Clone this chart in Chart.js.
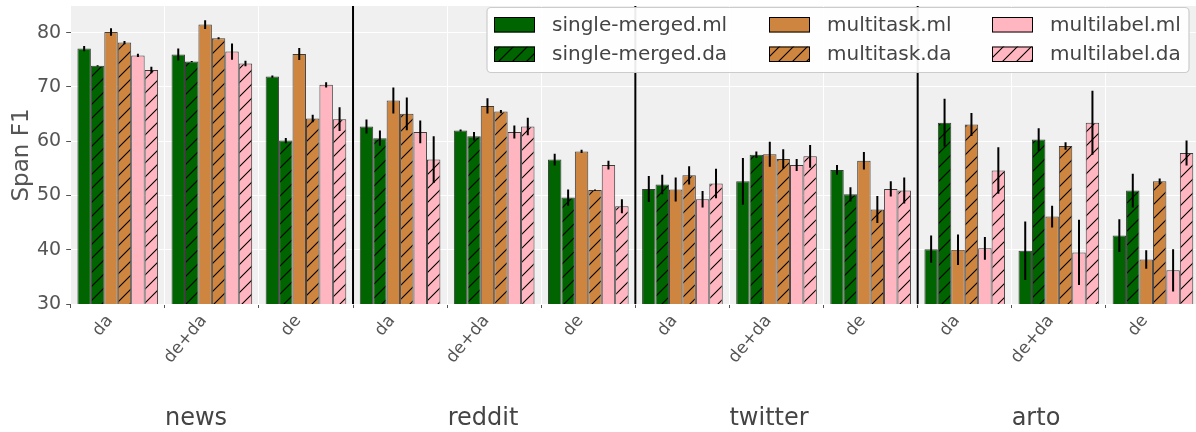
<!DOCTYPE html>
<html>
<head>
<meta charset="utf-8">
<script src="https://cdn.jsdelivr.net/npm/chart.js@4.4.1/dist/chart.umd.min.js"></script>
<style>
  html, body { margin: 0; padding: 0; background: #ffffff; overflow: hidden; }
  #wrap { width: 1200px; height: 432px; position: relative; }
</style>
</head>
<body>
<div id="wrap"><canvas id="c"></canvas></div>
<script>
// ---- data ----
const domains = ['news', 'reddit', 'twitter', 'arto'];
const subsets = ['da', 'de+da', 'de'];
const categories = ['da', 'de+da', 'de', 'da', 'de+da', 'de', 'da', 'de+da', 'de', 'da', 'de+da', 'de'];
const yTicks = [30, 40, 50, 60, 70, 80];

const singleMergedMl    = [77.05, 75.95, 71.9, 62.7, 61.96, 56.6, 51.2, 52.6, 54.7, 40.1, 39.8, 42.6];
const singleMergedMlErr = [0.5, 1.1, 0.2, 1.3, 0.2, 1.1, 2.4, 4.3, 0.9, 2.5, 5.4, 3.0];
const singleMergedDa    = [73.87, 74.66, 60.1, 60.55, 60.9, 49.6, 52.0, 57.5, 50.2, 63.4, 60.3, 50.9];
const singleMergedDaErr = [0.1, 0.1, 0.5, 1.4, 0.8, 1.5, 1.8, 0.6, 1.3, 4.4, 2.1, 3.1];
const multitaskMl       = [80.1, 81.47, 76.07, 67.5, 66.5, 58.1, 51.1, 57.6, 56.4, 40.0, 46.1, 38.2];
const multitaskMlErr    = [0.7, 0.8, 1.1, 2.4, 1.4, 0.3, 2.2, 2.3, 1.6, 2.8, 2.0, 1.7];
const multitaskDa       = [78.16, 78.96, 64.17, 65.03, 65.46, 50.98, 53.7, 56.7, 47.4, 63.07, 59.1, 52.6];
const multitaskDaErr    = [0.3, 0.2, 0.7, 3.0, 0.3, 0.1, 1.7, 1.8, 2.5, 2.1, 0.7, 0.5];
const multilabelMl      = [75.8, 76.5, 70.37, 61.7, 61.7, 55.6, 49.3, 55.6, 51.2, 40.25, 39.5, 36.2];
const multilabelMlErr   = [0.3, 1.5, 0.5, 2.1, 1.2, 0.8, 1.5, 1.1, 1.4, 2.1, 6.0, 3.9];
const multilabelDa      = [73.1, 74.3, 64.05, 56.6, 62.7, 48.0, 52.2, 57.2, 50.9, 54.6, 63.4, 57.8];
const multilabelDaErr   = [0.6, 0.5, 2.2, 4.3, 1.6, 1.3, 2.7, 2.1, 2.4, 4.3, 5.9, 2.3];

// ---- styles ----
const FONT = "'DejaVu Sans', sans-serif";
const GREEN = '#006400', PERU = '#CD853F', PINK = '#FFB6C1';

function hatch(color) {
  const s = 14;
  const c = document.createElement('canvas');
  c.width = s; c.height = s;
  const g = c.getContext('2d');
  g.fillStyle = color; g.fillRect(0, 0, s, s);
  g.strokeStyle = '#000'; g.lineWidth = 1.1;
  g.beginPath();
  g.moveTo(0, s); g.lineTo(s, 0);
  g.moveTo(-s / 2, s / 2); g.lineTo(s / 2, -s / 2);
  g.moveTo(s / 2, s * 1.5); g.lineTo(s * 1.5, s / 2);
  g.stroke();
  return g.createPattern(c, 'repeat');
}

function ds(label, data, err, color, hatched) {
  return {
    label, data, errors: err,
    backgroundColor: hatched ? hatch(color) : color,
    borderColor: 'rgba(0,0,0,0.75)',
    borderWidth: 1,
    borderSkipped: false
  };
}

const datasets = [
  ds('single-merged.ml', singleMergedMl, singleMergedMlErr, GREEN, false),
  ds('single-merged.da', singleMergedDa, singleMergedDaErr, GREEN, true),
  ds('multitask.ml', multitaskMl, multitaskMlErr, PERU, false),
  ds('multitask.da', multitaskDa, multitaskDaErr, PERU, true),
  ds('multilabel.ml', multilabelMl, multilabelMlErr, PINK, false),
  ds('multilabel.da', multilabelDa, multilabelDaErr, PINK, true)
];

const bgPlugin = {
  id: 'bg',
  beforeDraw(chart) {
    const { ctx, chartArea: a } = chart;
    ctx.save();
    ctx.fillStyle = '#f0f0f0';
    ctx.fillRect(a.left, a.top, a.right - a.left, a.bottom - a.top);
    ctx.restore();
  }
};

const overlayPlugin = {
  id: 'overlay',
  afterDatasetsDraw(chart) {
    const { ctx, chartArea: a } = chart;
    const ys = chart.scales.y, xs = chart.scales.x;
    ctx.save();
    ctx.beginPath();
    ctx.rect(a.left, a.top, a.right - a.left, a.bottom - a.top);
    ctx.clip();
    ctx.strokeStyle = '#000';
    ctx.lineWidth = 2;
    chart.data.datasets.forEach((d, i) => {
      const meta = chart.getDatasetMeta(i);
      meta.data.forEach((el, j) => {
        const v = d.data[j], e = d.errors[j];
        ctx.beginPath();
        ctx.moveTo(el.x, ys.getPixelForValue(v - e));
        ctx.lineTo(el.x, ys.getPixelForValue(v + e));
        ctx.stroke();
      });
    });
    ctx.lineWidth = 2;
    for (let g = 1; g < domains.length; g++) {
      const i = g * subsets.length;
      const x = (xs.getPixelForValue(i - 1) + xs.getPixelForValue(i)) / 2;
      ctx.beginPath();
      ctx.moveTo(x, a.top);
      ctx.lineTo(x, a.bottom);
      ctx.stroke();
    }
    ctx.restore();
  },
  afterDraw(chart) {
    const { ctx } = chart;
    ctx.save();
    const domainX = [196, 483, 769, 1036];
    ctx.fillStyle = '#444';
    ctx.font = '24px ' + FONT;
    ctx.textAlign = 'center';
    ctx.textBaseline = 'middle';
    domains.forEach((d, i) => ctx.fillText(d, domainX[i], 419));
    const bx = 487, by = 7.5, bw = 702, bh = 65;
    ctx.fillStyle = 'rgba(255,255,255,0.92)';
    ctx.strokeStyle = '#cccccc';
    ctx.lineWidth = 1.2;
    ctx.beginPath();
    ctx.roundRect(bx, by, bw, bh, 4);
    ctx.fill();
    ctx.stroke();
    const colX = [494, 769, 992];
    const rowY = [17, 46.5];
    ctx.font = '20px ' + FONT;
    ctx.textAlign = 'left';
    ctx.textBaseline = 'middle';
    chart.data.datasets.forEach((d, i) => {
      const col = Math.floor(i / 2), row = i % 2;
      const x = colX[col], y = rowY[row];
      ctx.fillStyle = d.backgroundColor;
      ctx.fillRect(x, y, 41, 15.5);
      ctx.strokeStyle = '#000';
      ctx.lineWidth = 1;
      ctx.strokeRect(x + 0.5, y + 0.5, 40, 14.5);
      ctx.fillStyle = '#444';
      ctx.fillText(d.label, x + 58, y + 8.5);
    });
    ctx.restore();
  }
};

new Chart(document.getElementById('c'), {
  type: 'bar',
  data: { labels: categories, datasets },
  plugins: [bgPlugin, overlayPlugin],
  options: {
    responsive: true,
    maintainAspectRatio: false,
    animation: false,
    devicePixelRatio: 1,
    layout: { padding: { top: 6, right: 0, left: 0, bottom: 0 } },
    datasets: { bar: { categoryPercentage: 0.857, barPercentage: 1.0 } },
    plugins: { legend: { display: false }, tooltip: { enabled: false } },
    scales: {
      x: {
        offset: true,
        grid: { offset: true, color: '#ffffff', lineWidth: 1, drawTicks: true, tickLength: 4, tickColor: '#555' },
        border: { display: false },
        ticks: {
          color: '#555', font: { family: FONT, size: 17 },
          minRotation: 50, maxRotation: 50, padding: 3, labelOffset: -8, autoSkip: false
        },
        afterFit(s) { s.height = 128; s.paddingLeft = 0; s.paddingRight = 0; }
      },
      y: {
        min: 30, max: 84.9,
        grid: { color: '#ffffff', lineWidth: 1, tickLength: 4.5, tickColor: '#555' },
        border: { display: false },
        ticks: { color: '#555', font: { family: FONT, size: 19 }, padding: 5, stepSize: 10 },
        afterBuildTicks(s) { s.ticks = yTicks.map(v => ({ value: v })); },
        title: { display: true, text: 'Span F1', color: '#555', font: { family: FONT, size: 23 }, padding: { top: 8, bottom: 0 } },
        afterFit(s) { s.width = 70.7; s.paddingTop = 0; s.paddingBottom = 0; }
      }
    }
  }
});
</script>
</body>
</html>
